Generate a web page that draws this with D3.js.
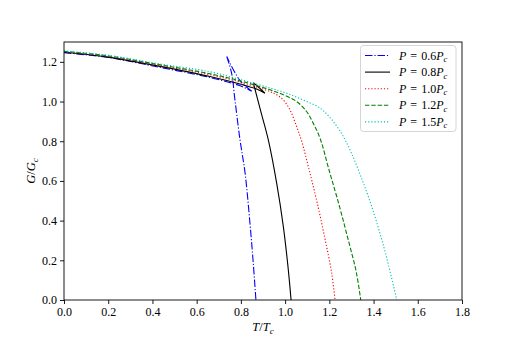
<!DOCTYPE html>
<html>
<head>
<meta charset="utf-8">
<script src="https://cdn.jsdelivr.net/npm/d3@7"></script>
<style>
  body { margin: 0; background: #fff; }
  svg text { font-family: "Liberation Serif", "DejaVu Serif", serif; fill: #000; }
</style>
</head>
<body>
<div id="chart"></div>
<script>
// data: [T/Tc, G/Gc], one array per branch
const xTicks = [0, 0.2, 0.4, 0.6, 0.8, 1.0, 1.2, 1.4, 1.6, 1.8];
const yTicks = [0, 0.2, 0.4, 0.6, 0.8, 1.0, 1.2];

const p06Small = [[0, 1.246], [0.2, 1.222], [0.43, 1.173], [0.66, 1.121], [0.8, 1.078], [0.849, 1.052]];
const p06Mid = [[0.849, 1.052], [0.8, 1.1], [0.766, 1.16], [0.736, 1.227]];
const p06Large = [[0.736, 1.227], [0.758, 1.143], [0.773, 1.009], [0.796, 0.807], [0.819, 0.639], [0.841, 0.387], [0.856, 0.185], [0.868, 0]];

const p08Small = [[0, 1.248], [0.2, 1.224], [0.434, 1.177], [0.66, 1.126], [0.796, 1.088], [0.871, 1.063], [0.909, 1.042]];
const p08Mid = [[0.909, 1.042], [0.88, 1.072], [0.856, 1.095]];
const p08Large = [[0.856, 1.095], [0.89, 0.95], [0.924, 0.807], [0.962, 0.588], [0.992, 0.37], [1.013, 0.168], [1.027, 0]];

const p10 = [[0, 1.251], [0.2, 1.228], [0.43, 1.182], [0.66, 1.135], [0.8, 1.097], [0.932, 1.05], [0.962, 1.034], [0.992, 1.008],
  [1.022, 0.958], [1.052, 0.874], [1.075, 0.8], [1.11, 0.65], [1.145, 0.49], [1.18, 0.31], [1.21, 0.14], [1.226, 0]];
const p12 = [[0, 1.253], [0.2, 1.23], [0.43, 1.186], [0.66, 1.14], [0.8, 1.103], [0.932, 1.059], [0.992, 1.034], [1.052, 1.0],
  [1.097, 0.95], [1.127, 0.891], [1.158, 0.815], [1.2, 0.65], [1.245, 0.475], [1.285, 0.305], [1.322, 0.14], [1.342, 0]];
const p15 = [[0, 1.255], [0.2, 1.233], [0.43, 1.19], [0.66, 1.15], [0.8, 1.11], [0.932, 1.068], [1.007, 1.042], [1.082, 1.008],
  [1.158, 0.967], [1.21, 0.91], [1.26, 0.83], [1.3, 0.74], [1.34, 0.63], [1.38, 0.51], [1.42, 0.37], [1.46, 0.21], [1.505, 0]];

const labels = ['0.6', '0.8', '1.0', '1.2', '1.5'];

const series = [
  { branches: [p06Small, p06Mid, p06Large], color: '#0000ff', dash: '7.5,1.9,1.2,1.9' },
  { branches: [p08Small, p08Mid, p08Large], color: '#000000', dash: null },
  { branches: [p10], color: '#ff0000', dash: '1.2,1.95' },
  { branches: [p12], color: '#008000', dash: '4.4,1.9' },
  { branches: [p15], color: '#00bfbf', dash: '1.2,1.95' }
];

const width = 513;
const height = 342;

const svg = d3.select('#chart')
  .append('svg')
  .attr('width', width)
  .attr('height', height);

const x = d3.scaleLinear().domain([0, 1.8]).range([64, 462]);
const y = d3.scaleLinear().domain([0, 1.3]).range([300, 42]);

// curves
const line = d3.line()
  .x((d) => x(d[0]))
  .y((d) => y(d[1]))
  .curve(d3.curveCatmullRom.alpha(0.5));

const plot = svg.append('g');
series.forEach((s) => {
  plot.append('path')
    .attr('d', s.branches.map((b) => line(b)).join(''))
    .attr('fill', 'none')
    .attr('stroke', s.color)
    .attr('stroke-width', 1.1)
    .attr('stroke-dasharray', s.dash);
});

// axes
const xAxis = svg.append('g')
  .attr('transform', 'translate(0,300)')
  .call(d3.axisBottom(x).tickValues(xTicks).tickFormat(d3.format('.1f')).tickSize(4).tickPadding(3));
const yAxis = svg.append('g')
  .attr('transform', 'translate(64,0)')
  .call(d3.axisLeft(y).tickValues(yTicks).tickFormat(d3.format('.1f')).tickSize(4).tickPadding(3));

[xAxis, yAxis].forEach((a) => {
  a.select('.domain').remove();
  a.selectAll('.tick line').attr('stroke', '#000').attr('stroke-width', 0.9);
  a.selectAll('.tick text').style('font-size', '12px').attr('fill', '#000');
});

svg.append('rect')
  .attr('x', 64)
  .attr('y', 42)
  .attr('width', 398)
  .attr('height', 258)
  .attr('fill', 'none')
  .attr('stroke', '#000')
  .attr('stroke-width', 0.9);

// axis labels
const xl = svg.append('text')
  .attr('x', 263)
  .attr('y', 331)
  .attr('text-anchor', 'middle')
  .style('font-size', '12.5px');
xl.append('tspan').style('font-style', 'italic').text('T');
xl.append('tspan').text('/');
xl.append('tspan').style('font-style', 'italic').text('T');
xl.append('tspan').style('font-style', 'italic').style('font-size', '9px').attr('dy', 2.5).text('c');

const yl = svg.append('text')
  .attr('transform', 'translate(35,171) rotate(-90)')
  .attr('text-anchor', 'middle')
  .style('font-size', '12.5px');
yl.append('tspan').style('font-style', 'italic').text('G');
yl.append('tspan').text('/');
yl.append('tspan').style('font-style', 'italic').text('G');
yl.append('tspan').style('font-style', 'italic').style('font-size', '9px').attr('dy', 2.5).text('c');

// legend
const legend = svg.append('g');
legend.append('rect')
  .attr('x', 360.5)
  .attr('y', 45.5)
  .attr('width', 95.5)
  .attr('height', 86)
  .attr('rx', 3)
  .attr('fill', 'rgba(255,255,255,0.8)')
  .attr('stroke', '#d0d0d0')
  .attr('stroke-width', 0.9);

series.forEach((s, i) => {
  const ly = 55.5 + i * 16.6;
  legend.append('line')
    .attr('x1', 365)
    .attr('x2', 390)
    .attr('y1', ly)
    .attr('y2', ly)
    .attr('stroke', s.color)
    .attr('stroke-width', 1.1)
    .attr('stroke-dasharray', s.dash);
  const t = legend.append('text')
    .attr('x', 399)
    .attr('y', ly + 4)
    .style('font-size', '12px');
  t.append('tspan').style('font-style', 'italic').text('P');
  t.append('tspan').attr('dx', 4).text('=');
  t.append('tspan').attr('dx', 4).text(labels[i]);
  t.append('tspan').style('font-style', 'italic').text('P');
  t.append('tspan').style('font-style', 'italic').style('font-size', '8.5px').attr('dy', 2.5).text('c');
});
</script>
</body>
</html>
